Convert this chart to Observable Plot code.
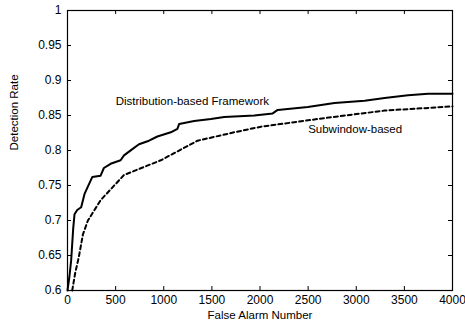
<!DOCTYPE html>
<html><head><meta charset="utf-8">
<script src="https://cdn.jsdelivr.net/npm/d3@7"></script>
<script src="https://cdn.jsdelivr.net/npm/@observablehq/plot@0.6"></script>
<style>body{margin:0;background:#fff}</style>
</head><body><div id="chart"></div>
<script>
const xTicks = [0, 500, 1000, 1500, 2000, 2500, 3000, 3500, 4000];
const yTicks = [0.6, 0.65, 0.7, 0.75, 0.8, 0.85, 0.9, 0.95, 1];

const distFA = [0, 20, 38, 59, 73, 101, 142, 177, 257, 344, 378, 448, 552, 587, 674, 743, 847, 934, 1073, 1142, 1160, 1316, 1490, 1628, 1941, 2132, 2184, 2497, 2774, 3087, 3295, 3538, 3747, 4000];
const distDR = [0.6, 0.62, 0.643, 0.688, 0.709, 0.715, 0.719, 0.738, 0.762, 0.764, 0.775, 0.781, 0.786, 0.793, 0.802, 0.809, 0.814, 0.82, 0.826, 0.831, 0.838, 0.842, 0.845, 0.848, 0.85, 0.853, 0.858, 0.862, 0.868, 0.871, 0.875, 0.879, 0.881, 0.881];

const subFA = [49, 80, 118, 160, 212, 344, 587, 969, 1351, 1733, 2010, 2601, 3295, 4000];
const subDR = [0.6, 0.625, 0.648, 0.68, 0.70, 0.729, 0.765, 0.786, 0.814, 0.826, 0.834, 0.845, 0.857, 0.863];

const labels = ["Distribution-based Framework", "Subwindow-based"];
const labelX = [500, 2500];
const labelY = [0.87, 0.83];

const dist = distFA.map((x, i) => ({x, y: distDR[i]}));
const sub = subFA.map((x, i) => ({x, y: subDR[i]}));
const lab = labels.map((t, i) => ({t, x: labelX[i], y: labelY[i]}));

const W = 465, H = 328, mL = 67, mR = 13, mT = 10, mB = 38;
const fw = W - mL - mR, fh = H - mT - mB, tk = 4;

const chart = Plot.plot({
  width: W, height: H, marginLeft: mL, marginRight: mR, marginTop: mT, marginBottom: mB,
  style: {fontFamily: "'Liberation Sans', Arial, sans-serif", fontSize: "12px", color: "#000", background: "#fff"},
  x: {domain: [0, 4000]},
  y: {domain: [0.6, 1]},
  marks: [
    Plot.axisX({ticks: xTicks, tickSize: 0, tickPadding: 5, label: null, tickFormat: d => String(d)}),
    Plot.axisY({ticks: yTicks, tickSize: 0, tickPadding: 6, label: null, tickFormat: d => String(d)}),
    Plot.tickX(xTicks, {x: d => d, insetTop: fh - tk, stroke: "#000"}),
    Plot.tickX(xTicks, {x: d => d, insetBottom: fh - tk, stroke: "#000"}),
    Plot.tickY(yTicks, {y: d => d, insetRight: fw - tk, stroke: "#000"}),
    Plot.tickY(yTicks, {y: d => d, insetLeft: fw - tk, stroke: "#000"}),
    Plot.line(sub, {x: "x", y: "y", stroke: "#000", strokeWidth: 2, strokeDasharray: "4,3"}),
    Plot.line(dist, {x: "x", y: "y", stroke: "#000", strokeWidth: 2}),
    Plot.frame({stroke: "#000", strokeWidth: 1.2}),
    Plot.text(lab, {x: "x", y: "y", text: "t", textAnchor: "start", fontSize: 11.5, fill: "#000"}),
    Plot.text(["False Alarm Number"], {frameAnchor: "bottom", dy: 28, fontSize: 11.5, fill: "#000"}),
    Plot.text(["Detection Rate"], {frameAnchor: "left", dx: -53, rotate: -90, fontSize: 11.5, fill: "#000"})
  ]
});
document.getElementById("chart").append(chart);
</script>
</body></html>
